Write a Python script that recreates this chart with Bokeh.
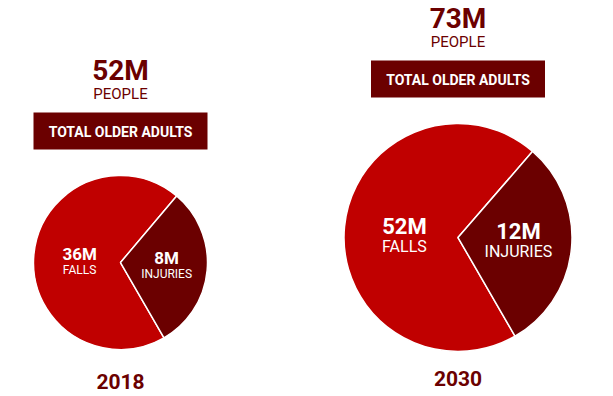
import math
from bokeh.plotting import figure
from bokeh.models import Range1d
from bokeh.core.properties import value
from bokeh.embed import file_html
from bokeh.resources import INLINE

# ---- data ----
years = ["2018", "2030"]
total_people = ["52M", "73M"]
people_label = "PEOPLE"
box_label = "TOTAL OLDER ADULTS"
falls = ["36M", "52M"]
falls_label = "FALLS"
injuries = ["8M", "12M"]
injuries_label = "INJURIES"
injury_share = [0.305, 0.303]   # share of pie drawn as injuries

# ---- styles / layout ----
RED = "#C00000"
DARK = "#6B0000"
FONT = value("Roboto")
W, H = 613, 396

def Y(img_y):
    return H - img_y

p = figure(width=W, height=H, output_backend="svg", toolbar_location=None,
           x_range=Range1d(0, W), y_range=Range1d(0, H), min_border=0)
p.axis.visible = False
p.grid.visible = False
p.outline_line_color = None
p.background_fill_color = "white"


def label(x, base_img_y, txt, size, color, bold=False):
    # place text so its alphabetic baseline sits at base_img_y (image pixels)
    p.text(x=[x], y=[Y(base_img_y - 0.32 * size)], text=[txt], text_font=FONT,
           text_font_size=f"{size}px", text_font_style="bold" if bold else "normal",
           text_color=color, text_align="center", text_baseline="alphabetic")


layouts = [
    dict(cx=120, cy=262, r=87, dy=0, fs=1.0, year_y=388),
    dict(cx=457.5, cy=237, r=114, dy=-52, fs=1.3, year_y=385),
]

for i, L in enumerate(layouts):
    cx, cy, r, dy, fs = L["cx"], L["cy"], L["r"], L["dy"], L["fs"]
    start = math.radians(-60)
    end = start + injury_share[i] * 2 * math.pi
    p.wedge(x=[cx], y=[Y(cy)], radius=r, start_angle=end, end_angle=start + 2 * math.pi,
            fill_color=RED, line_color="white", line_width=1.5)
    p.wedge(x=[cx], y=[Y(cy)], radius=r, start_angle=start, end_angle=end,
            fill_color=DARK, line_color="white", line_width=1.5)

    label(cx, 79 + dy, total_people[i], 28, DARK, bold=True)
    label(cx, 98 + dy, people_label, 15, DARK)
    p.quad(left=[cx - 87], right=[cx + 87], top=[Y(112 + dy)], bottom=[Y(149 + dy)],
           fill_color=DARK, line_color=None)
    label(cx, 136 + dy, box_label, 14, "white", bold=True)

    fx = cx - 0.47 * r
    ix = cx + 0.53 * r
    label(fx, cy - 3 * fs, falls[i], round(17 * fs), "white", bold=True)
    label(fx, cy + 11 * fs, falls_label, round(12.5 * fs), "white")
    label(ix, cy + 1 * fs, injuries[i], round(17 * fs), "white", bold=True)
    label(ix, cy + 15 * fs, injuries_label, round(12.5 * fs), "white")

    label(cx, L["year_y"], years[i], 21, DARK, bold=True)

open("out.html", "w").write(file_html(p, INLINE))
